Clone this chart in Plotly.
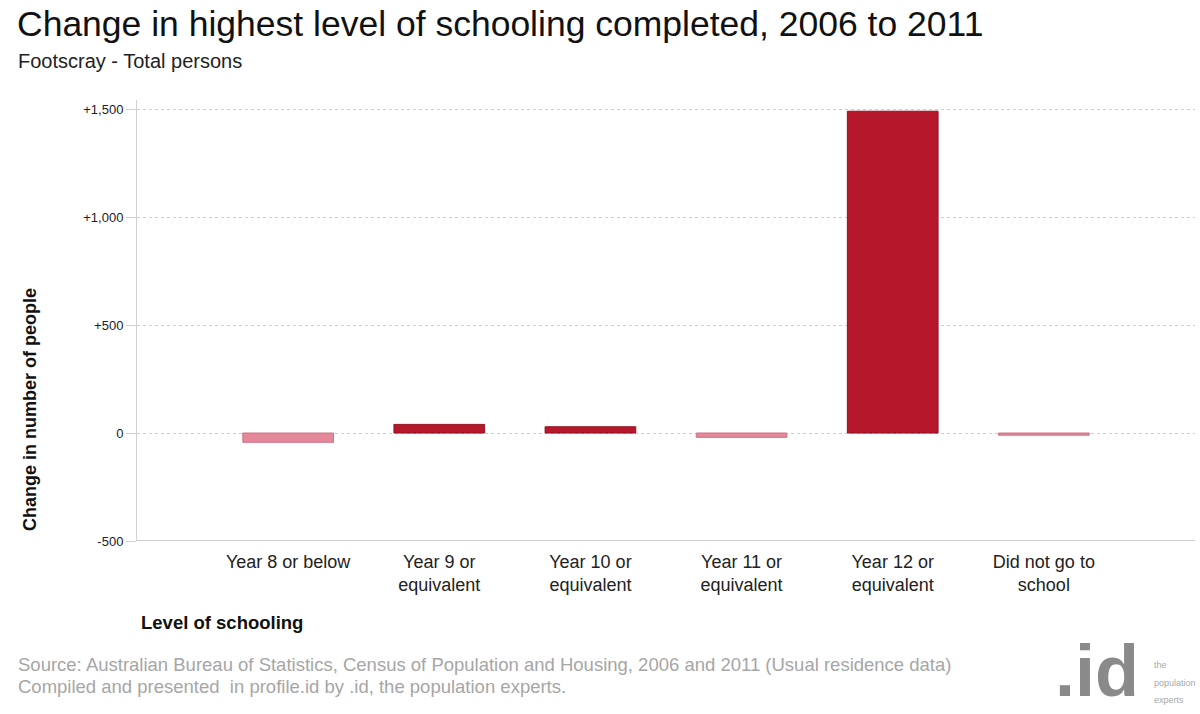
import plotly.graph_objects as go

categories = ["Year 8 or below", "Year 9 or<br>equivalent", "Year 10 or<br>equivalent",
              "Year 11 or<br>equivalent", "Year 12 or<br>equivalent", "Did not go to<br>school"]
changes = [-43, 40, 29, -20, 1490, -10]
tick_vals = [-500, 0, 500, 1000, 1500]
tick_text = ["-500", "0", "+500", "+1,000", "+1,500"]

pos_color = "#B5172B"
neg_color = "#E3899A"
colors = [pos_color if v >= 0 else neg_color for v in changes]
line_colors = ["#94101F" if v >= 0 else "#CF7285" for v in changes]

FONT = "Liberation Sans, Arial, sans-serif"
W, H = 1200, 714
ML, MR, MT, MB = 137, 5, 100, 173

fig = go.Figure()
fig.add_trace(go.Bar(
    x=list(range(len(categories))), y=changes,
    marker=dict(color=colors, line=dict(color=line_colors, width=1)),
    width=0.6, hoverinfo="y",
))

fig.update_layout(
    width=W, height=H,
    margin=dict(l=ML, r=MR, t=MT, b=MB),
    paper_bgcolor="white", plot_bgcolor="white",
    showlegend=False,
    font=dict(family=FONT, color="#222"),
    xaxis=dict(
        range=[-1, 6], tickmode="array",
        tickvals=list(range(len(categories))), ticktext=categories,
        tickfont=dict(size=18, color="#222"),
        ticklabelstandoff=8,
        showgrid=False, zeroline=False,
        showline=False, ticks="",
    ),
    yaxis=dict(
        range=[-500, 1542], tickmode="array",
        tickvals=tick_vals, ticktext=tick_text,
        tickfont=dict(size=13, color="#222"),
        showgrid=True, gridcolor="#cccccc", griddash="dot", gridwidth=1,
        zeroline=False,
        showline=True, linecolor="#d0d0d0", linewidth=1,
        ticks="outside", ticklen=10, tickcolor="#d0d0d0",
    ),
)

# bottom axis line at -500
fig.add_shape(type="line", xref="paper", yref="y", x0=0, x1=1, y0=-500, y1=-500,
              line=dict(color="#cfcfcf", width=2))


def px_ann(text, x, y, size, color, xanchor="left", yanchor="middle", angle=0):
    fig.add_annotation(
        text=text, showarrow=False,
        xref="paper", yref="paper",
        x=(x - ML) / (W - ML - MR),
        y=(H - MB - y) / (H - MT - MB),
        xanchor=xanchor, yanchor=yanchor, textangle=angle,
        font=dict(size=size, color=color, family=FONT),
    )


px_ann("Change in highest level of schooling completed, 2006 to 2011", 15, 24, 35.5, "#111")
px_ann("Footscray - Total persons", 16, 61, 20, "#222")
px_ann("<b>Level of schooling</b>", 139, 622, 18.5, "#111")
px_ann("Source: Australian Bureau of Statistics, Census of Population and Housing, 2006 and 2011 (Usual residence data)",
       16, 664, 18.5, "#a6a6a6")
px_ann("Compiled and presented  in profile.id by .id, the population experts.",
       16, 686, 18.5, "#a6a6a6")
px_ann("<b>Change in number of people</b>", 30, 410, 18, "#111", xanchor="center", angle=-90)

# logo
px_ann("<b>.id</b>", 1097, 713, 72, "#8a8a8a", xanchor="center", yanchor="bottom")
px_ann("the", 1152, 665, 9, "#a8a8a8")
px_ann("population", 1152, 683, 9, "#a8a8a8")
px_ann("experts", 1152, 700, 9, "#a8a8a8")

fig.write_html("out.html", config={"displayModeBar": False},
               post_script="document.body.style.margin='0px';")
